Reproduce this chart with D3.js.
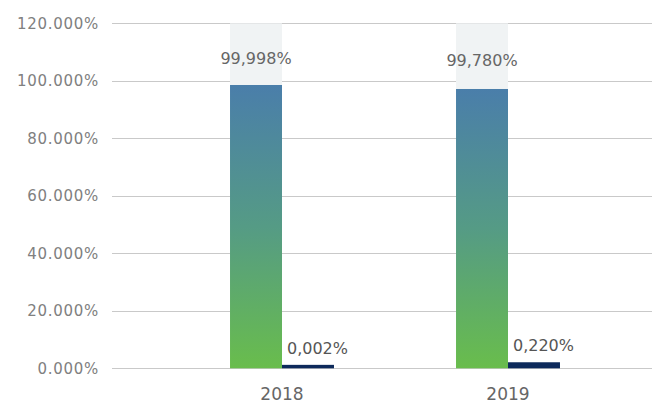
<!DOCTYPE html>
<html>
<head>
<meta charset="utf-8">
<script src="https://cdn.jsdelivr.net/npm/d3@7"></script>
<style>
  html, body { margin: 0; padding: 0; background: #fff; }
  svg { display: block; font-family: "DejaVu Sans", sans-serif; }
</style>
</head>
<body>
<script>
// values as drawn in the picture (bar heights) and as labelled
const years = ["2018", "2019"]
const mainValues = [0.9854, 0.9715]
const otherValues = [0.012, 0.021]
const mainLabels = ["99,998%", "99,780%"]
const otherLabels = ["0,002%", "0,220%"]
const yTicks = [0, 0.2, 0.4, 0.6, 0.8, 1.0, 1.2]

const width = 652
const height = 405
const gridLeft = 112

const svg = d3.select("body").append("svg")
  .attr("width", width)
  .attr("height", height)

const defs = svg.append("defs")
const grad = defs.append("linearGradient")
  .attr("id", "barGrad")
  .attr("x1", 0).attr("y1", 0).attr("x2", 0).attr("y2", 1)
grad.append("stop").attr("offset", "0%").attr("stop-color", "#4a7eaa")
grad.append("stop").attr("offset", "50%").attr("stop-color", "#559b85")
grad.append("stop").attr("offset", "100%").attr("stop-color", "#69bd4c")

const y = d3.scaleLinear()
  .domain([0, 1.2])
  .range([368.3, 23.3])

const x = d3.scaleBand()
  .domain(years)
  .range([169, 621])
  .paddingInner(0.54)
  .paddingOuter(0.27)

const x1 = d3.scaleBand()
  .domain(["main", "other"])
  .range([0, x.bandwidth()])

// grid
svg.append("g")
  .selectAll("line")
  .data(yTicks)
  .join("line")
  .attr("x1", gridLeft)
  .attr("x2", width)
  .attr("y1", d => Math.round(y(d)) + 0.5)
  .attr("y2", d => Math.round(y(d)) + 0.5)
  .attr("stroke", "#c9c9c9")
  .attr("stroke-width", 1)

svg.append("g")
  .selectAll("text")
  .data(yTicks)
  .join("text")
  .attr("x", 99)
  .attr("y", d => y(d))
  .attr("dy", "0.36em")
  .attr("text-anchor", "end")
  .attr("font-size", 15)
  .attr("letter-spacing", 0.7)
  .attr("fill", "#808080")
  .text(d => d3.format(".3f")(d * 100) + "%")

const groups = svg.append("g")
  .selectAll("g")
  .data(years)
  .join("g")
  .attr("transform", d => `translate(${x(d)},0)`)

// light box above the main bar
groups.append("rect")
  .attr("x", x1("main"))
  .attr("width", x1.bandwidth())
  .attr("y", y(1.2))
  .attr("height", (d, i) => y(mainValues[i]) - y(1.2))
  .attr("fill", "#f0f3f4")

groups.append("rect")
  .attr("x", x1("main"))
  .attr("width", x1.bandwidth())
  .attr("y", (d, i) => y(mainValues[i]))
  .attr("height", (d, i) => y(0) - y(mainValues[i]))
  .attr("fill", "url(#barGrad)")

groups.append("rect")
  .attr("x", x1("other"))
  .attr("width", x1.bandwidth())
  .attr("y", (d, i) => y(otherValues[i]))
  .attr("height", (d, i) => y(0) - y(otherValues[i]))
  .attr("fill", "#0d2a5b")

groups.append("text")
  .attr("x", x1("main") + x1.bandwidth() / 2)
  .attr("y", (d, i) => (y(1.2) + y(mainValues[i])) / 2 + 10)
  .attr("text-anchor", "middle")
  .attr("font-size", 16)
  .attr("fill", "#666")
  .text((d, i) => mainLabels[i])

groups.append("text")
  .attr("x", x1("other") + 5)
  .attr("y", (d, i) => y(otherValues[i]) - 11)
  .attr("font-size", 16)
  .attr("fill", "#555")
  .text((d, i) => otherLabels[i])

// x axis labels
svg.append("g")
  .selectAll("text")
  .data(years)
  .join("text")
  .attr("x", d => x(d) + x.bandwidth() / 2)
  .attr("y", 400)
  .attr("text-anchor", "middle")
  .attr("font-size", 17)
  .attr("fill", "#666")
  .text(d => d)
</script>
</body>
</html>
